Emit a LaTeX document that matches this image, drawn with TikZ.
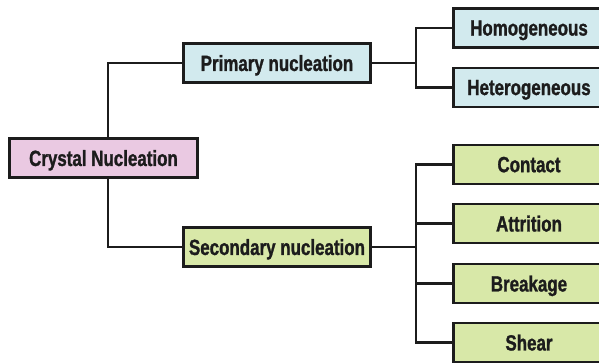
\documentclass[tikz,border=0pt]{standalone}
\usepackage{fontspec}
\setmainfont{Liberation Sans}[FakeStretch=0.77, FakeBold=1.2]
\definecolor{rootfill}{RGB}{234,201,226}
\definecolor{primfill}{RGB}{210,234,238}
\definecolor{secfill}{RGB}{216,232,168}
\definecolor{inkcol}{RGB}{28,28,28}
\tikzset{
  box/.style={draw=inkcol, line width=2.6pt, inner sep=0pt,
    font=\fontsize{22}{24}\selectfont\bfseries, text=inkcol,
    text depth=0pt},
  rootbox/.style={box, fill=rootfill, minimum width=188.5pt, minimum height=39.5pt},
  midbox/.style={box, minimum width=187.5pt, minimum height=39.5pt},
  leafbox/.style={box, minimum width=151.5pt, minimum height=39pt},
  link/.style={draw=inkcol, line width=2.2pt}
}
\begin{document}
\begin{tikzpicture}[x=1pt, y=-1pt]
\useasboundingbox (0,0) rectangle (599,363);
\clip (0,0) rectangle (599,363);

% root and first level
\node[rootbox] (cn) at (103.5,158) {Crystal Nucleation};
\node[midbox, fill=primfill] (pn) at (277,63) {Primary nucleation};
\node[midbox, fill=secfill] (sn) at (277,247) {Secondary nucleation};

% primary branches
\node[leafbox, fill=primfill] (homo) at (529,28) {Homogeneous};
\node[leafbox, fill=primfill] (hetero) at (529,87.5) {Heterogeneous};

% secondary branches
\node[leafbox, fill=secfill] (contact) at (529,164.5) {Contact};
\node[leafbox, fill=secfill] (attr) at (529,223.5) {Attrition};
\node[leafbox, fill=secfill] (break) at (529,283.5) {Breakage};
\node[leafbox, fill=secfill] (shear) at (529,342.5) {Shear};

% bus positions
\coordinate (rootbus) at (108,0);
\coordinate (leafbus) at (416,0);

% root to first level
\draw[link] (cn.north -| rootbus) |- (pn.west);
\draw[link] (cn.south -| rootbus) |- (sn.west);

% primary to its branches
\draw[link] (pn.east) -- (pn.east -| leafbus);
\draw[link] (homo.west) -| (hetero.west -| leafbus) -- (hetero.west);

% secondary to its branches
\draw[link] (sn.east) -- (sn.east -| leafbus);
\draw[link] (contact.west) -| (shear.west -| leafbus) -- (shear.west);
\draw[link] (attr.west -| leafbus) -- (attr.west);
\draw[link] (break.west -| leafbus) -- (break.west);
\end{tikzpicture}
\end{document}
